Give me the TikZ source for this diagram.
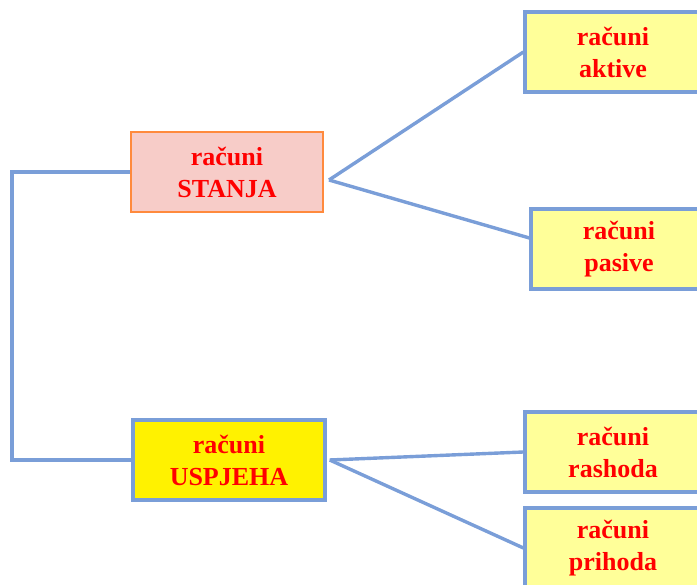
\documentclass[tikz,border=0pt]{standalone}
\usepackage{fontspec}
\setmainfont{Liberation Serif}
\usepackage{tikz}
\usepackage{xcolor}
\usetikzlibrary{positioning}
\definecolor{linkblue}{RGB}{122,158,216}
\definecolor{stanjaorange}{RGB}{255,138,61}
\definecolor{stanjapink}{RGB}{247,204,200}
\definecolor{lightyellow}{RGB}{255,255,153}
\tikzstyle{group} = [rectangle, minimum width=192pt, minimum height=80pt, inner sep=0pt, text centered, align=center, text=red, font=\bfseries\fontsize{26}{32}\selectfont]
\tikzstyle{account} = [rectangle, minimum width=176pt, minimum height=80pt, inner sep=0pt, text centered, align=center, draw=linkblue, line width=3.2pt, fill=lightyellow, text=red, font=\bfseries\fontsize{26}{32}\selectfont]
\tikzstyle{link} = [linkblue, line width=3.4pt]

\begin{document}
\begin{tikzpicture}[x=1pt, y=-1pt]
        \useasboundingbox (0,0) rectangle (697,585);
        \clip (0,0) rectangle (697,585);
        \node (stanja) [group, draw=stanjaorange, line width=2pt, fill=stanjapink] at (227,172) {računi\\STANJA};
        \node (uspjeha) [group, draw=linkblue, line width=3.5pt, fill=yellow] at (229,460) {računi\\USPJEHA};
        \node (aktive) [account] at (613,52) {računi\\aktive};
        \node (pasive) [account] at (619,249) {računi\\pasive};
        \node (rashoda) [account] at (613,452) {računi\\rashoda};
        \node (prihoda) [account] at (613,548) {računi\\prihoda};

        \coordinate (stanjaout) at ([xshift=5pt, yshift=-8pt]stanja.east);
        \draw [link] (stanja.west) -- ++(-118,0) |- (uspjeha.west);
        \draw [link] (stanjaout) -- (aktive.west);
        \draw [link] (stanjaout) -- ([yshift=11pt]pasive.west);
        \draw [link] ([xshift=3pt]uspjeha.east) -- (rashoda.west);
        \draw [link] ([xshift=3pt]uspjeha.east) -- (prihoda.west);
    \end{tikzpicture}
\end{document}
